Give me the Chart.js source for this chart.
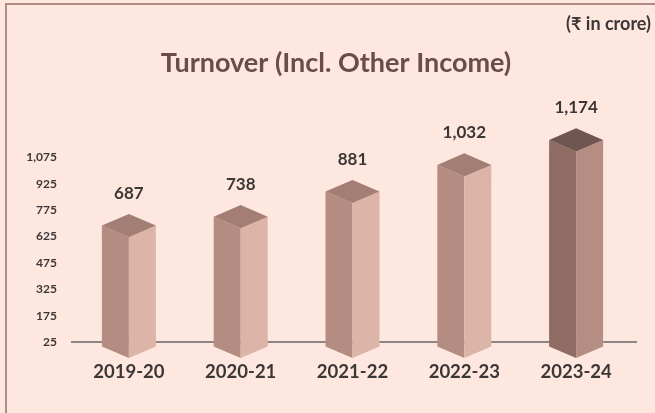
<!DOCTYPE html>
<html><head><meta charset="utf-8">
<script src="https://cdn.jsdelivr.net/npm/chart.js@4"></script>
<style>html,body{margin:0;padding:0;background:#fde7de;overflow:hidden;} #wrap{position:relative;width:655px;height:413px;}</style>
</head><body><div id="wrap"><canvas id="c" width="655" height="413"></canvas></div>
<script>
const categories = ['2019-20', '2020-21', '2021-22', '2022-23', '2023-24'];
const turnover = [687, 738, 881, 1032, 1174];
const yTickValues = [25, 175, 325, 475, 625, 775, 925, 1075];
const chartTitle = 'Turnover (Incl. Other Income)';
const unitNote = '(\u20B9 in crore)';

const normalFaces = { left: '#b58c81', right: '#ddb5a8', top: '#a27e75' };
const highlightFaces = { left: '#8e6c63', right: '#b58d83', top: '#715550' };
const textDark = '#3c3737';
const fmt = v => v.toLocaleString('en-US');

const bars3d = {
  id: 'bars3d',
  beforeDraw(chart) {
    const ctx = chart.ctx;
    ctx.save();
    ctx.fillStyle = '#fde7de';
    ctx.fillRect(0, 0, chart.width, chart.height);
    ctx.fillStyle = '#b18c85';
    ctx.fillRect(5, 3, chart.width - 5, 2);
    ctx.fillRect(5, 3, 2, chart.height - 3);
    ctx.restore();
  },
  beforeDatasetsDraw(chart) {
    const ctx = chart.ctx, a = chart.chartArea;
    ctx.save();
    ctx.strokeStyle = '#8c8787';
    ctx.lineWidth = 2;
    ctx.beginPath();
    ctx.moveTo(a.left - 2, a.bottom);
    ctx.lineTo(a.right + 5, a.bottom);
    ctx.stroke();
    ctx.restore();
  },
  afterDatasetsDraw(chart) {
    const ctx = chart.ctx;
    const meta = chart.getDatasetMeta(0);
    const n = meta.data.length;
    ctx.save();
    meta.data.forEach((bar, i) => {
      const p = bar.getProps(['x', 'y', 'base', 'width'], true);
      const hw = p.width / 2, d = p.width * 0.215;
      const c = i === n - 1 ? highlightFaces : normalFaces;
      ctx.fillStyle = c.left;
      ctx.beginPath();
      ctx.moveTo(p.x - hw, p.y);
      ctx.lineTo(p.x, p.y + d);
      ctx.lineTo(p.x, p.base + d);
      ctx.lineTo(p.x - hw, p.base);
      ctx.closePath();
      ctx.fill();
      ctx.fillStyle = c.right;
      ctx.beginPath();
      ctx.moveTo(p.x + hw, p.y);
      ctx.lineTo(p.x, p.y + d);
      ctx.lineTo(p.x, p.base + d);
      ctx.lineTo(p.x + hw, p.base);
      ctx.closePath();
      ctx.fill();
      ctx.fillStyle = c.top;
      ctx.beginPath();
      ctx.moveTo(p.x - hw, p.y);
      ctx.lineTo(p.x, p.y - d);
      ctx.lineTo(p.x + hw, p.y);
      ctx.lineTo(p.x, p.y + d);
      ctx.closePath();
      ctx.fill();
      ctx.fillStyle = textDark;
      ctx.font = 'bold 17px Lato';
      ctx.textAlign = 'center';
      ctx.textBaseline = 'middle';
      ctx.fillText(fmt(turnover[i]), p.x, p.y - 32);
    });
    ctx.restore();
  },
  afterDraw(chart) {
    const ctx = chart.ctx;
    ctx.save();
    ctx.fillStyle = '#6b4c46';
    ctx.font = 'bold 27px Lato';
    ctx.textAlign = 'center';
    ctx.textBaseline = 'middle';
    ctx.fillText(chartTitle, 336, 63);
    ctx.fillStyle = textDark;
    ctx.font = 'bold 18px Lato, "DejaVu Sans"';
    ctx.textAlign = 'right';
    ctx.fillText(unitNote, 651, 24);
    ctx.restore();
  }
};

new Chart(document.getElementById('c'), {
  type: 'bar',
  data: {
    labels: categories,
    datasets: [{
      data: turnover,
      backgroundColor: 'rgba(0,0,0,0)',
      borderWidth: 0,
      categoryPercentage: 1,
      barPercentage: 0.483
    }]
  },
  options: {
    responsive: false,
    animation: false,
    devicePixelRatio: 1,
    layout: { padding: { left: 0, right: 23, top: 131, bottom: 0 } },
    plugins: { legend: { display: false }, tooltip: { enabled: false }, title: { display: false } },
    scales: {
      x: {
        grid: { display: false, drawTicks: false },
        border: { display: false },
        ticks: { color: textDark, font: { family: 'Lato', weight: 'bold', size: 18.5 }, padding: 19 },
        afterFit(s) { s.height = 71; }
      },
      y: {
        min: 25, max: 1225,
        grid: { display: false, drawTicks: false },
        border: { display: false },
        ticks: {
          stepSize: 150,
          color: textDark,
          font: { family: 'Lato', weight: 'bold', size: 12 },
          padding: 16,
          callback: v => yTickValues.includes(v) ? fmt(v) : ''
        },
        afterFit(s) { s.width = 73; }
      }
    }
  },
  plugins: [bars3d]
});
</script></body></html>
